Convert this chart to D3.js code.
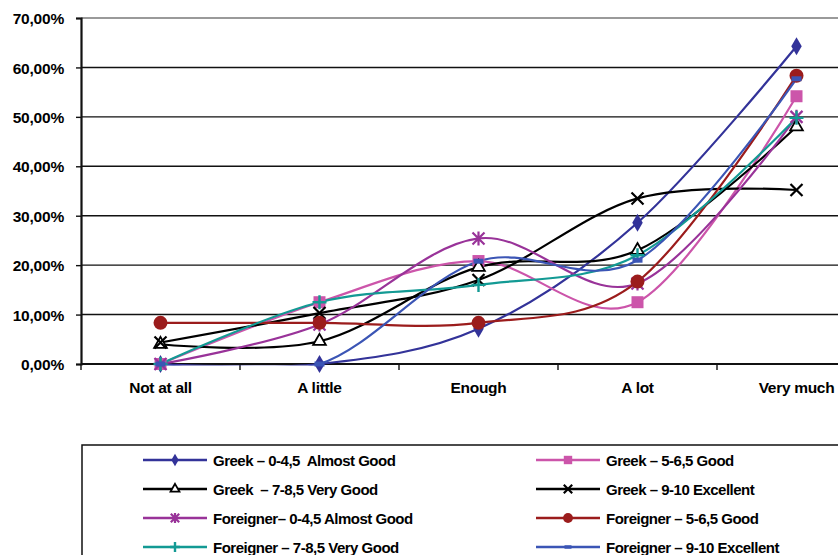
<!DOCTYPE html>
<html>
<head>
<meta charset="utf-8">
<script src="https://cdn.jsdelivr.net/npm/d3@7"></script>
<style>
  html, body { margin: 0; padding: 0; background: #fff; }
  svg { display: block; }
  text { font-family: "Liberation Sans", Arial, sans-serif; font-weight: bold; fill: #000; white-space: pre; }
</style>
</head>
<body>
<svg id="chart" width="838" height="555"></svg>
<script>
// Answer categories along the x axis
const categories = ["Not at all", "A little", "Enough", "A lot", "Very much"];

// Percentage of respondents per answer, by nationality and grade band
const greekAlmostGood      = [0, 0, 7.14, 28.57, 64.29];
const greekGood            = [0, 12.5, 20.83, 12.5, 54.17];
const greekVeryGood        = [4.0, 4.6, 19.6, 23.0, 48.0];
const greekExcellent       = [4.35, 10.3, 17.0, 33.5, 35.2];
const foreignerAlmostGood  = [0, 8.0, 25.4, 16.3, 50.0];
const foreignerGood        = [8.33, 8.33, 8.33, 16.67, 58.33];
const foreignerVeryGood    = [0, 12.5, 16.0, 22.0, 49.8];
const foreignerExcellent   = [0, 0, 20.8, 21.0, 57.7];

const seriesNames = [
  "Greek – 0-4,5  Almost Good",
  "Greek – 5-6,5 Good",
  "Greek  – 7-8,5 Very Good",
  "Greek – 9-10 Excellent",
  "Foreigner– 0-4,5 Almost Good",
  "Foreigner – 5-6,5 Good",
  "Foreigner – 7-8,5 Very Good",
  "Foreigner – 9-10 Excellent"
];
const seriesValues = [
  greekAlmostGood, greekGood, greekVeryGood, greekExcellent,
  foreignerAlmostGood, foreignerGood, foreignerVeryGood, foreignerExcellent
];
const yTicks = [0, 10, 20, 30, 40, 50, 60, 70];

// Line colour and marker shape for each series
const styles = [
  { color: "#333399", marker: "diamond" },
  { color: "#cc55aa", marker: "square" },
  { color: "#000000", marker: "triangle" },
  { color: "#000000", marker: "x" },
  { color: "#993399", marker: "asterisk" },
  { color: "#9b1c1c", marker: "circle" },
  { color: "#139a94", marker: "plus" },
  { color: "#3b55b5", marker: "dash" }
];

const series = seriesNames.map((name, i) => ({ name, values: seriesValues[i], ...styles[i] }));

const svg = d3.select("#chart");

const x = d3.scaleBand().domain(categories).range([81, 876]).paddingInner(0).paddingOuter(0);
const cx = c => x(c) + x.bandwidth() / 2;
const y = d3.scaleLinear().domain([0, 70]).range([364, 18]);

// Lines are clipped to the plot area
svg.append("defs").append("clipPath").attr("id", "plot-clip")
  .append("rect").attr("x", 81).attr("y", y(70)).attr("width", 838 - 81).attr("height", y(0) - y(70) + 1.5);

// Horizontal gridlines
svg.append("g").selectAll("line").data(yTicks).join("line")
  .attr("x1", 81).attr("x2", 838)
  .attr("y1", d => y(d)).attr("y2", d => y(d))
  .attr("stroke", d => d === 70 ? "#9a9a9a" : "#111")
  .attr("stroke-width", d => d === 70 ? 2 : 1.4);

// Y axis
const yAxis = svg.append("g").attr("transform", "translate(81,0)")
  .call(d3.axisLeft(y).tickValues(yTicks).tickSize(5).tickPadding(5)
    .tickFormat(d => d3.format(".2f")(d).replace(".", ",") + "%"));
yAxis.select(".domain").attr("stroke", "#111").attr("stroke-width", 2.2);
yAxis.selectAll(".tick line").attr("stroke", "#111").attr("stroke-width", 1.4);
yAxis.selectAll(".tick text").attr("font-size", 15.5).attr("font-family", "Liberation Sans, Arial, sans-serif")
  .attr("font-weight", "bold").attr("fill", "#000").attr("dy", "0.36em").attr("x", -17).attr("letter-spacing", "-0.2px");

// X axis: ticks between categories
const xAxisG = svg.append("g").attr("transform", `translate(0,${y(0)})`);
xAxisG.append("line").attr("x1", 81).attr("x2", 838).attr("y1", 0).attr("y2", 0)
  .attr("stroke", "#111").attr("stroke-width", 1.8);
xAxisG.selectAll("line.tick").data(categories).join("line")
  .attr("class", "tick")
  .attr("x1", d => x(d)).attr("x2", d => x(d))
  .attr("y1", 0).attr("y2", 6)
  .attr("stroke", "#111").attr("stroke-width", 1.4);
xAxisG.append("line").attr("x1", x.range()[1]).attr("x2", x.range()[1]).attr("y1", 0).attr("y2", 6)
  .attr("stroke", "#111").attr("stroke-width", 1.4);
xAxisG.selectAll("text").data(categories).join("text")
  .attr("x", d => cx(d)).attr("y", 29)
  .attr("text-anchor", "middle").attr("font-size", 15.5).attr("letter-spacing", "-0.3px")
  .text(d => d);

// Marker drawing
function drawMarker(g, type, color, px, py, scale = 1) {
  const s = scale;
  switch (type) {
    case "diamond":
      g.append("path").attr("d", d3.symbol(d3.symbolDiamond, 95 * s * s)())
        .attr("transform", `translate(${px},${py})`).attr("fill", color); break;
    case "square":
      g.append("rect").attr("x", px - 6 * s).attr("y", py - 6 * s).attr("width", 12 * s).attr("height", 12 * s)
        .attr("fill", color); break;
    case "triangle":
      g.append("path").attr("d", d3.symbol(d3.symbolTriangle, 70 * s * s)())
        .attr("transform", `translate(${px},${py})`).attr("fill", "#fff").attr("stroke", color).attr("stroke-width", 1.8); break;
    case "x":
      g.append("path").attr("d", `M${px - 6 * s},${py - 6 * s}L${px + 6 * s},${py + 6 * s}M${px - 6 * s},${py + 6 * s}L${px + 6 * s},${py - 6 * s}`)
        .attr("stroke", color).attr("stroke-width", 2.2).attr("fill", "none"); break;
    case "asterisk":
      g.append("path").attr("d", `M${px - 6 * s},${py - 6 * s}L${px + 6 * s},${py + 6 * s}M${px - 6 * s},${py + 6 * s}L${px + 6 * s},${py - 6 * s}M${px},${py - 7 * s}L${px},${py + 7 * s}`)
        .attr("stroke", color).attr("stroke-width", 2.2).attr("fill", "none"); break;
    case "circle":
      g.append("circle").attr("cx", px).attr("cy", py).attr("r", 7 * s).attr("fill", color); break;
    case "plus":
      g.append("path").attr("d", `M${px - 7 * s},${py}L${px + 7 * s},${py}M${px},${py - 7 * s}L${px},${py + 7 * s}`)
        .attr("stroke", color).attr("stroke-width", 2.4).attr("fill", "none"); break;
    case "dash":
      g.append("rect").attr("x", px - 5 * s).attr("y", py - 2.5 * s).attr("width", 10 * s).attr("height", 5 * s)
        .attr("fill", color); break;
  }
}

// Smoothed series lines
const line = d3.line()
  .x((d, i) => cx(categories[i]))
  .y(d => y(d))
  .curve(d3.curveCatmullRom.alpha(0));

const lines = svg.append("g").attr("clip-path", "url(#plot-clip)");
series.forEach(s => {
  lines.append("path").datum(s.values).attr("d", line)
    .attr("fill", "none").attr("stroke", s.color).attr("stroke-width", 2.2);
});
const markers = svg.append("g");
series.forEach(s => {
  const g = markers.append("g");
  s.values.forEach((v, i) => drawMarker(g, s.marker, s.color, cx(categories[i]), y(v)));
});

// Legend
const legend = svg.append("g");
legend.append("rect").attr("x", 82).attr("y", 445).attr("width", 800).attr("height", 200)
  .attr("fill", "#fff").attr("stroke", "#111").attr("stroke-width", 1.5);
series.forEach((s, i) => {
  const col = i % 2, row = Math.floor(i / 2);
  const lx = col === 0 ? 143 : 536;
  const ly = 460 + row * 29;
  const g = legend.append("g");
  g.append("line").attr("x1", lx).attr("x2", lx + 64).attr("y1", ly).attr("y2", ly)
    .attr("stroke", s.color).attr("stroke-width", 2.4);
  drawMarker(g, s.marker, s.color, lx + 32, ly, 0.7);
  g.append("text").attr("x", lx + 70).attr("y", ly + 5.5)
    .attr("font-size", 15).attr("letter-spacing", "-0.5px").text(s.name);
});
</script>
</body>
</html>
